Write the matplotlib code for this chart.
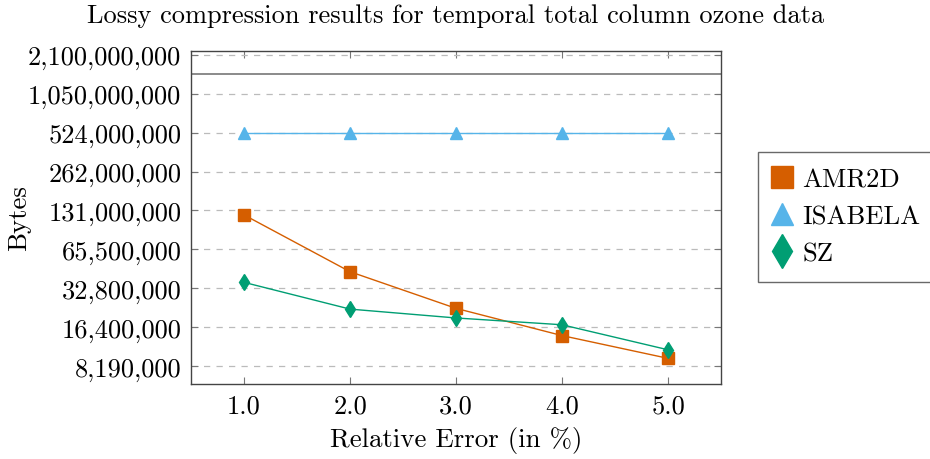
import matplotlib
matplotlib.use("Agg")
import matplotlib.pyplot as plt

plt.rcParams['font.family'] = ['cmr10', 'DejaVu Serif']
plt.rcParams['axes.formatter.use_mathtext'] = True

# data
rel_error = [1.0, 2.0, 3.0, 4.0, 5.0]
amr2d = [121e6, 44e6, 22.9e6, 14.1e6, 9.4e6]
isabela = [524e6, 524e6, 524e6, 524e6, 524e6]
sz = [36.4e6, 22.6e6, 19.3e6, 17.1e6, 10.95e6]
original_size = 1.49e9

ytick_vals = [8.192e6, 16.384e6, 32.768e6, 65.536e6, 131.072e6,
              262.144e6, 524.288e6, 1048.576e6, 2097.152e6]
ytick_labels = ["8,190,000", "16,400,000", "32,800,000", "65,500,000",
                "131,000,000", "262,000,000", "524,000,000",
                "1,050,000,000", "2,100,000,000"]
xtick_labels = ["1.0", "2.0", "3.0", "4.0", "5.0"]

fig = plt.figure(figsize=(9.3, 4.6), dpi=100)
ax = fig.add_axes([0.2054, 0.163, 0.5699, 0.724])

ax.set_yscale('log')
ax.set_xlim(0.5, 5.5)
ax.set_ylim(5.95e6, 2.245e9)

ax.axhline(original_size, color='#777777', linewidth=1.2, zorder=1)

ax.plot(rel_error, amr2d, color='#D55E00', marker='s', markersize=8,
        linewidth=1.0, label='AMR2D', zorder=3)
ax.plot(rel_error, isabela, color='#56B4E9', marker='^', markersize=8,
        linewidth=1.0, label='ISABELA', zorder=3)
ax.plot(rel_error, sz, color='#009E73', marker='d', markersize=8.5,
        linewidth=1.0, label='SZ', zorder=3)

ax.set_yticks(ytick_vals)
ax.set_yticklabels(ytick_labels)
ax.minorticks_off()
ax.set_xticks(rel_error)
ax.set_xticklabels(xtick_labels)
ax.tick_params(axis='both', which='both', direction='in', top=True, right=True,
               labelsize=19, length=5, color='#777777', pad=7)
ax.yaxis.grid(True, linestyle=(0, (5, 5)), color='#bbbbbb', linewidth=0.9)
for sp in ax.spines.values():
    sp.set_color('#444444')
    sp.set_linewidth(1.0)

ax.set_xlabel('Relative Error (in %)', fontsize=19.4)
ax.xaxis.set_label_coords(0.5, -0.125)
ax.set_ylabel('Bytes', fontsize=19.4)
ax.yaxis.set_label_coords(-0.302, 0.5)
ax.set_title('Lossy compression results for temporal total column ozone data',
             fontsize=19, pad=21)

leg = fig.legend(loc='upper left', bbox_to_anchor=(758 / 930, 1 - 153 / 460),
                 fontsize=19.2, frameon=True, fancybox=False, edgecolor='#444444',
                 handlelength=0.6, handletextpad=0.45, borderpad=0.6,
                 labelspacing=0.5, markerscale=2.0, borderaxespad=0)
for h in leg.legend_handles:
    h.set_linestyle('None')
leg.get_frame().set_linewidth(1.0)

fig.savefig('out.png', dpi=100)
